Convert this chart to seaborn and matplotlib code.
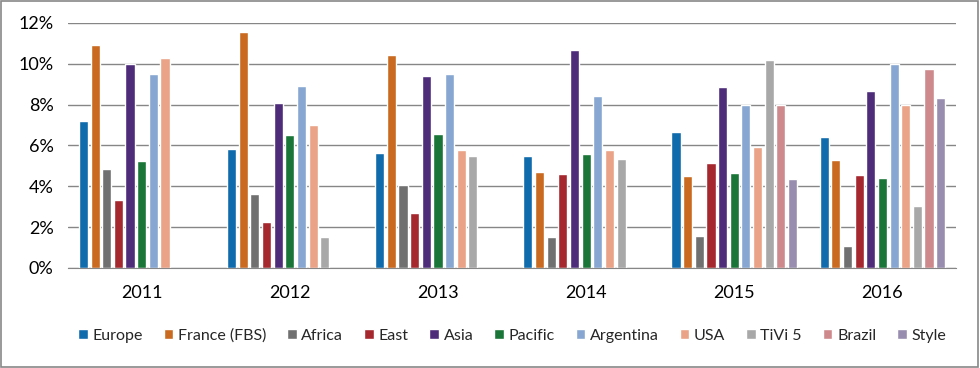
import pandas as pd
import seaborn as sns
import matplotlib.pyplot as plt
from matplotlib.ticker import PercentFormatter
from matplotlib.patches import Rectangle

years = ["2011", "2012", "2013", "2014", "2015", "2016"]
series = ["Europe", "France (FBS)", "Africa", "East", "Asia", "Pacific",
          "Argentina", "USA", "TiVi 5", "Brazil", "Style"]
nan = float("nan")
europe = [7.2, 5.8, 5.65, 5.5, 6.67, 6.43]
france = [10.9, 11.57, 10.42, 4.72, 4.52, 5.3]
africa = [4.86, 3.64, 4.08, 1.53, 1.58, 1.09]
east = [3.34, 2.27, 2.71, 4.62, 5.16, 4.57]
asia = [9.97, 8.08, 9.42, 10.69, 8.88, 8.68]
pacific = [5.25, 6.53, 6.58, 5.6, 4.67, 4.42]
argentina = [9.47, 8.93, 9.47, 8.44, 7.98, 9.96]
usa = [10.28, 7.02, 5.79, 5.79, 5.94, 7.98]
tivi5 = [nan, 1.53, 5.5, 5.35, 10.19, 3.05]
brazil = [nan, nan, nan, nan, 7.98, 9.76]
style = [nan, nan, nan, nan, 4.37, 8.34]

colors = ["#106BAD", "#C96A20", "#707070", "#A5282F", "#4E2C7A", "#1A7538",
          "#87A7D2", "#EBA387", "#A8A8A8", "#CE898C", "#998DAF"]

values = [europe, france, africa, east, asia, pacific, argentina, usa, tivi5, brazil, style]
rows = []
for name, vals in zip(series, values):
    for y, v in zip(years, vals):
        rows.append({"Year": y, "Series": name, "Value": v})
df = pd.DataFrame(rows)

sns.set_style("white")
plt.rcParams["font.family"] = ["Lato", "DejaVu Sans"]

fig = plt.figure(figsize=(9.8, 3.68), dpi=100)
ax = fig.add_axes([0.069, 0.272, 0.907, 0.666])
sns.barplot(data=df, x="Year", y="Value", hue="Series", hue_order=series,
            order=years, palette=colors, width=0.865, gap=0.22, ax=ax,
            saturation=1, errorbar=None)

ax.set_ylim(0, 12)
ax.set_yticks(range(0, 13, 2))
ax.yaxis.set_major_formatter(PercentFormatter(decimals=0))
ax.grid(axis="y", color="#868686", linewidth=1)
ax.set_axisbelow(True)
for s in ["left", "right", "top"]:
    ax.spines[s].set_visible(False)
ax.spines["bottom"].set_color("#868686")
ax.tick_params(axis="both", length=0, labelsize=13, colors="#000000")
ax.tick_params(axis="x", pad=12)
ax.tick_params(axis="y", pad=10)
ax.set_xlabel("")
ax.set_ylabel("")

leg = ax.legend(loc="upper center", bbox_to_anchor=(0.5, -0.22), ncol=11,
                frameon=False, fontsize=11.5, handlelength=0.6, handleheight=0.6,
                handletextpad=0.3, columnspacing=1.3, borderaxespad=0)

fig.patches.append(Rectangle((0.001, 0.002), 0.997, 0.995, transform=fig.transFigure,
                             fill=False, edgecolor="#888888", linewidth=1.2))

fig.savefig("out.png", dpi=100)
